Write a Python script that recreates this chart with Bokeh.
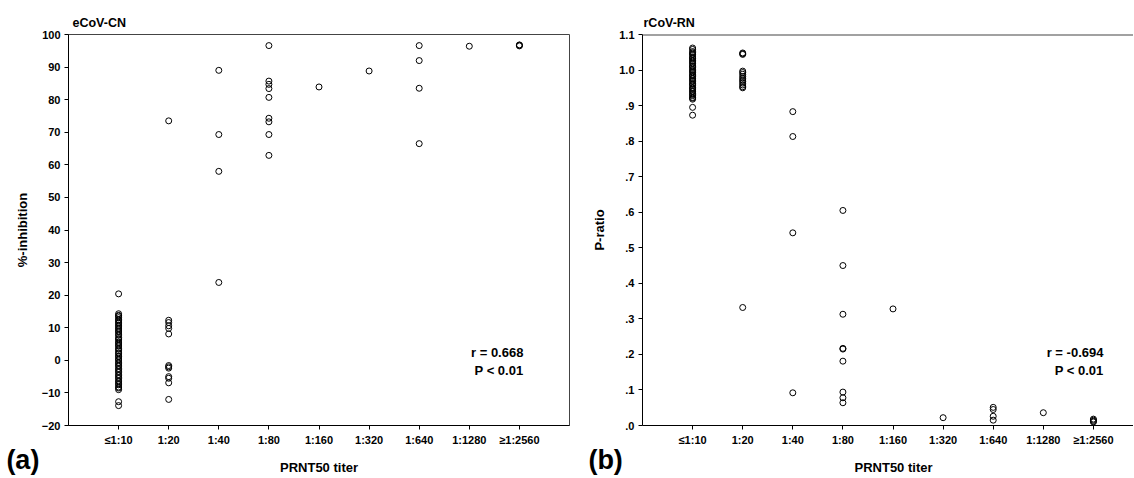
from bokeh.plotting import figure
from bokeh.models import FixedTicker, Label, Span, Range1d
from bokeh.layouts import row
from bokeh.embed import file_html
from bokeh.resources import INLINE

# ---------------- data ----------------
categories = ["≤1:10", "1:20", "1:40", "1:80", "1:160", "1:320", "1:640", "1:1280", "≥1:2560"]

# panel (a) eCoV-CN, %-inhibition per PRNT50 titer group
cn_le10 = [20.4, 14.3, 13.8, 13.6, 13.1, 12.5, 12.3, 11.7, 11.4, 10.8, 10.5, 9.9, 9.6, 9.0,
           8.7, 8.0, 7.7, 7.0, 6.6, 6.3, 5.6, 5.3, 4.7, 4.4, 3.7, 3.4, 2.9, 2.3, 2.0, 1.3,
           1.1, 0.4, 0.1, -0.6, -0.9, -1.5, -1.8, -2.5, -2.8, -3.4, -3.7, -4.4, -4.7, -5.3,
           -5.6, -6.3, -6.6, -7.2, -7.5, -8.2, -8.5, -9.0, -12.7, -13.9]
cn_20 = [73.5, 12.3, 11.6, 10.6, 9.8, 8.1, -1.6, -2.0, -2.4, -5.0, -5.5, -6.9, -12.0]
cn_40 = [89.0, 69.3, 58.0, 23.9]
cn_80 = [96.6, 85.7, 84.7, 83.4, 80.7, 74.3, 73.2, 69.3, 62.9]
cn_160 = [83.9]
cn_320 = [88.8]
cn_640 = [96.6, 92.0, 83.5, 66.5]
cn_1280 = [96.4]
cn_ge2560 = [96.5, 96.7, 96.8]

# panel (b) rCoV-RN, P-ratio per PRNT50 titer group
rn_le10 = [1.062, 1.058, 1.052, 1.049, 1.045, 1.043, 1.037, 1.034, 1.032, 1.027, 1.025,
           1.020, 1.018, 1.012, 1.010, 1.007, 1.002, 0.999, 0.995, 0.993, 0.987, 0.985,
           0.982, 0.977, 0.975, 0.970, 0.968, 0.962, 0.960, 0.957, 0.951, 0.949, 0.946,
           0.941, 0.939, 0.934, 0.931, 0.928, 0.923, 0.921, 0.918, 0.895, 0.873]
rn_20 = [1.048, 1.046, 1.044, 0.997, 0.993, 0.988, 0.982, 0.977, 0.972, 0.968, 0.963,
         0.958, 0.953, 0.950, 0.332]
rn_40 = [0.883, 0.813, 0.542, 0.092]
rn_80 = [0.605, 0.450, 0.313, 0.217, 0.215, 0.181, 0.094, 0.078, 0.064]
rn_160 = [0.328]
rn_320 = [0.022]
rn_640 = [0.051, 0.045, 0.026, 0.015]
rn_1280 = [0.036]
rn_ge2560 = [0.018, 0.015, 0.012, 0.010]

y1_ticks = [-20, -10, 0, 10, 20, 30, 40, 50, 60, 70, 80, 90, 100]
y2_ticks = [0.0, 0.1, 0.2, 0.3, 0.4, 0.5, 0.6, 0.7, 0.8, 0.9, 1.0, 1.1]
y2_tick_labels = [".0", ".1", ".2", ".3", ".4", ".5", ".6", ".7", ".8", ".9", "1.0", "1.1"]

cn_groups = [cn_le10, cn_20, cn_40, cn_80, cn_160, cn_320, cn_640, cn_1280, cn_ge2560]
rn_groups = [rn_le10, rn_20, rn_40, rn_80, rn_160, rn_320, rn_640, rn_1280, rn_ge2560]
x_ticks = list(range(1, len(categories) + 1))

FONT = "Liberation Sans, Arial, sans-serif"


def flatten(groups):
    xs, ys = [], []
    for i, g in enumerate(groups):
        for v in g:
            xs.append(i + 1)
            ys.append(v)
    return xs, ys


def style(p, ylabel, yticks, yoverrides=None):
    p.xgrid.visible = False
    p.ygrid.visible = False
    p.background_fill_color = "white"
    p.border_fill_color = "white"
    for ax in (p.xaxis[0], p.yaxis[0]):
        ax.axis_line_color = "black"
        ax.axis_line_width = 1
        ax.major_tick_line_color = "black"
        ax.major_tick_out = 4
        ax.major_tick_in = 0
        ax.minor_tick_line_color = None
        ax.major_label_text_font = FONT
        ax.major_label_text_font_size = "11px"
        ax.major_label_text_font_style = "bold"
        ax.major_label_text_color = "black"
        ax.major_label_standoff = 4
    p.xaxis.ticker = FixedTicker(ticks=x_ticks)
    p.xaxis.major_label_overrides = dict(zip(x_ticks, categories))
    p.yaxis.ticker = FixedTicker(ticks=yticks)
    if yoverrides:
        p.yaxis.major_label_overrides = yoverrides
    p.yaxis.axis_label = ylabel
    p.yaxis.axis_label_text_font = FONT
    p.yaxis.axis_label_text_font_size = "13px"
    p.yaxis.axis_label_text_font_style = "bold"
    p.yaxis.axis_label_text_color = "black"
    p.yaxis.axis_label_standoff = 9


def label(p, x, y, text, size="13px", align="right", place="center"):
    lab = Label(x=x, y=y, text=text, text_align=align, text_baseline="alphabetic",
                text_font=FONT, text_font_size=size, text_font_style="bold",
                text_color="black")
    p.add_layout(lab, place)


# ---------------- panel (a) ----------------
p1 = figure(width=580, height=478, output_backend="svg", toolbar_location=None,
            x_range=Range1d(0, 10), y_range=Range1d(-20, 100),
            min_border_left=68, min_border_right=11, min_border_top=34, min_border_bottom=52)
style(p1, "%-inhibition", y1_ticks)
p1.outline_line_color = "#444444"
p1.outline_line_width = 1
x1, y1 = flatten(cn_groups)
p1.scatter(x1, y1, marker="circle", size=6, fill_color=None, line_color="black", line_width=1)
label(p1, 9.08, 2.4, "r = 0.668")
label(p1, 9.08, -3.1, "P < 0.01")
label(p1, 0.08, 103.67, "eCoV-CN", size="12.5px", align="left", place="above")
label(p1, 5.0, -33.0, "PRNT50 titer", align="center", place="above")
label(p1, -1.24, -30.65, "(a)", size="27px", align="left", place="below")

# ---------------- panel (b) ----------------
p2 = figure(width=553, height=478, output_backend="svg", toolbar_location=None,
            x_range=Range1d(0, 9.8), y_range=Range1d(0, 1.1),
            min_border_left=62, min_border_right=0, min_border_top=34, min_border_bottom=52)
style(p2, "P-ratio", y2_ticks, dict(zip(y2_ticks, y2_tick_labels)))
p2.outline_line_color = None
p2.add_layout(Span(location=1.1, dimension="width", line_color="#444444", line_width=2))
x2, y2 = flatten(rn_groups)
p2.scatter(x2, y2, marker="circle", size=6, fill_color=None, line_color="black", line_width=1)
label(p2, 9.2, 0.206, "r = -0.694")
label(p2, 9.2, 0.155, "P < 0.01")
label(p2, 0.02, 1.1337, "rCoV-RN", size="12.5px", align="left", place="above")
label(p2, 5.01, -0.119, "PRNT50 titer", align="center", place="above")
label(p2, -1.08, -0.0976, "(b)", size="27px", align="left", place="below")

layout = row(p1, p2)
open("out.html", "w").write(file_html(layout, INLINE))
